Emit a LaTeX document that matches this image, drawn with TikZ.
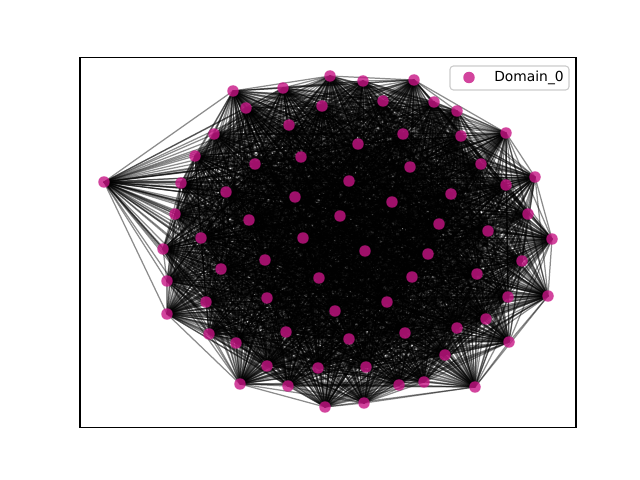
\documentclass[tikz,border=0pt]{standalone}
\usepackage{fontspec}
\setmainfont{DejaVu Sans}
\usetikzlibrary{backgrounds}
\definecolor{nodec}{RGB}{199,21,133}
\tikzset{
  gnode/.style={circle, fill=nodec, fill opacity=0.8, draw=none, minimum size=8.3pt, inner sep=0pt},
  edge/.style={draw=black, draw opacity=0.45, line width=0.9pt},
  frame/.style={draw=black, line width=0.8pt},
  legendbox/.style={draw=black!20, fill=white, fill opacity=0.8, rounded corners=2.5pt, line width=0.8pt}
}
\begin{document}
\begin{tikzpicture}[x=0.01in,y=-0.01in]
\useasboundingbox (0,0) rectangle (640,480);
\foreach \x/\y [count=\k] in {
104/182, 233/91, 283/88, 330/76, 363/81, 414/80, 246/108, 322/106, 383/101, 434/102,
457/111, 289/125, 214/134, 403/134, 461/136, 506/133, 358/144, 195/156, 301/157, 255/164,
410/167, 481/164, 535/177, 181/183, 349/181, 226/192, 295/197, 451/194, 506/185, 392/202,
175/214, 340/216, 249/220, 439/224, 528/214, 488/231, 201/238, 303/238, 552/239, 163/249,
365/251, 428/254, 265/260, 522/261, 221/269, 319/278, 412/277, 477/274, 167/281, 548/296,
267/298, 206/302, 387/302, 508/297, 335/311, 167/314, 486/319, 286/332, 457/328, 405/333,
209/334, 349/339, 509/342, 236/343, 445/355, 267/366, 318/368, 366/367, 240/384, 288/386,
399/385, 424/382, 475/387, 325/407, 364/403}
  \node[gnode] (n\k) at (\x,\y) {};
\foreach \a/\b in {1/2,2/4,4/6,6/16,16/23,23/39,39/50,50/63,63/73,73/75,74/75,69/74,56/69,1/56}
  \expandafter\xdef\csname hull@\a @\b\endcsname{1};
\begin{scope}[on background layer]
\pgfmathsetseed{7}
\foreach \i in {1,...,74}{
  \pgfmathtruncatemacro\s{\i+1}
  \foreach \j in {\s,...,75}{
    \pgfmathtruncatemacro\r{rnd<0.9?1:0}
    \ifcsname hull@\i @\j\endcsname \def\r{1}\fi
    \ifnum\r=1 \draw[edge] (n\i.center) -- (n\j.center);\fi
  }
}
\end{scope}
\draw[frame] (80,57.6) rectangle (576,427.2);
\draw[legendbox] (450,66) rectangle (569,90);
\node[gnode] (legm) at (469,77.5) {};
\node[anchor=west, inner sep=0pt, font=\fontsize{10}{12}\selectfont] (legt) at (494,77.5) {Domain\_0};
\end{tikzpicture}
\end{document}
